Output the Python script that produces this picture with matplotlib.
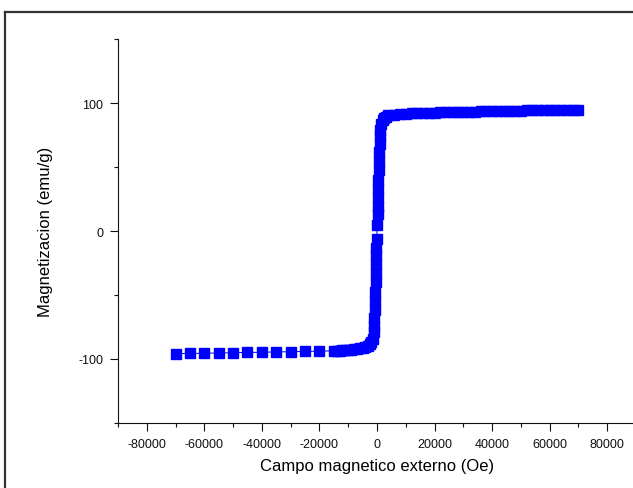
import numpy             as np
import matplotlib.pyplot as plt
from matplotlib.lines import Line2D
from matplotlib.ticker import MultipleLocator

plt.rcParams['font.family'] = ['Liberation Sans', 'DejaVu Sans']
plt.rcParams['axes.unicode_minus'] = False

# campo aplicado (Oe) y magnetizacion (emu/g)
campo = [-70000, -65000, -60000, -55000, -50000, -45000, -40000, -35000,
         -30000, -25000, -20000, -15000,
         -14000, -13000, -12000, -11000, -10000, -9000, -8000, -7000,
         -6000, -5000, -4000, -3000, -2500, -2000, -1500, -1200,
         -1000, -900, -800, -700, -600, -500, -450, -400, -350, -300,
         -100, 100,
         300, 350, 400, 450, 500, 600, 700, 800, 900, 1000,
         1200, 1500, 2000, 2500, 3000, 4000,
         6000, 8000, 10000, 12000, 14000, 16000, 18000, 20000,
         22000, 24000, 26000, 28000, 30000, 32000, 34000, 36000,
         38000, 40000, 42000, 44000, 46000, 48000, 50000, 52000,
         54000, 56000, 58000, 60000, 62000, 64000, 66000, 68000, 70000]
magnet = [-95.8, -95.7, -95.5, -95.3, -95.1, -94.9, -94.7, -94.5,
          -94.3, -94.1, -93.9, -93.6,
          -93.5, -93.4, -93.3, -93.1, -92.9, -92.7, -92.4, -92.1,
          -91.7, -91.2, -90.5, -89.5, -88.5, -87.0, -84.0, -79.0,
          -74.0, -68.0, -62.0, -55.0, -48.0, -40.0, -33.0, -26.0, -19.0, -13.0,
          -6.0, 5.0,
          13.0, 19.0, 26.0, 33.0, 40.0, 48.0, 55.0, 62.0, 68.0, 74.0,
          79.0, 84.0, 87.0, 88.5, 89.5, 90.4,
          91.0, 91.4, 91.7, 91.9, 92.1, 92.3, 92.5, 92.6,
          92.8, 92.9, 93.0, 93.1, 93.2, 93.3, 93.4, 93.5,
          93.6, 93.7, 93.8, 93.9, 94.0, 94.0, 94.1, 94.2,
          94.3, 94.3, 94.4, 94.5, 94.5, 94.6, 94.7, 94.7, 94.8]


fig = plt.figure(figsize=(6.33, 4.89), dpi=100)
ax  = fig.add_axes([0.1864, 0.133, 0.8183, 0.785])

ax.plot(campo, magnet, color='#0000ff', lw=0.7, marker='s', ms=6.5,
        mec='#0000ff', mfc='#0000ff', clip_on=False)

ax.set_xlim(-90000, 90000)
ax.set_ylim(-150, 150)
ax.xaxis.set_major_locator(MultipleLocator(20000))
ax.xaxis.set_minor_locator(MultipleLocator(10000))
ax.yaxis.set_major_locator(MultipleLocator(100))
ax.yaxis.set_minor_locator(MultipleLocator(50))

for s in ['top', 'right']:
    ax.spines[s].set_visible(False)
for s in ['left', 'bottom']:
    ax.spines[s].set_linewidth(0.8)
    ax.spines[s].set_color('#111111')

ax.tick_params(which='major', direction='out', length=5.5, width=0.8,
               labelsize=9, pad=5, colors='#111111')
ax.tick_params(which='minor', direction='out', length=3, width=0.8,
               colors='#111111')

ax.set_xlabel('Campo magnetico externo (Oe)', fontsize=12, labelpad=6)
ax.set_ylabel('Magnetizacion (emu/g)', fontsize=12, labelpad=18)

# marco exterior (solo arriba e izquierda)
fig.add_artist(Line2D([5/633, 1], [1 - 13/489] * 2, color='#333333', lw=1.6))
fig.add_artist(Line2D([5/633] * 2, [0, 1 - 13/489], color='#333333', lw=1.6))

fig.savefig('out.png', dpi=100)
